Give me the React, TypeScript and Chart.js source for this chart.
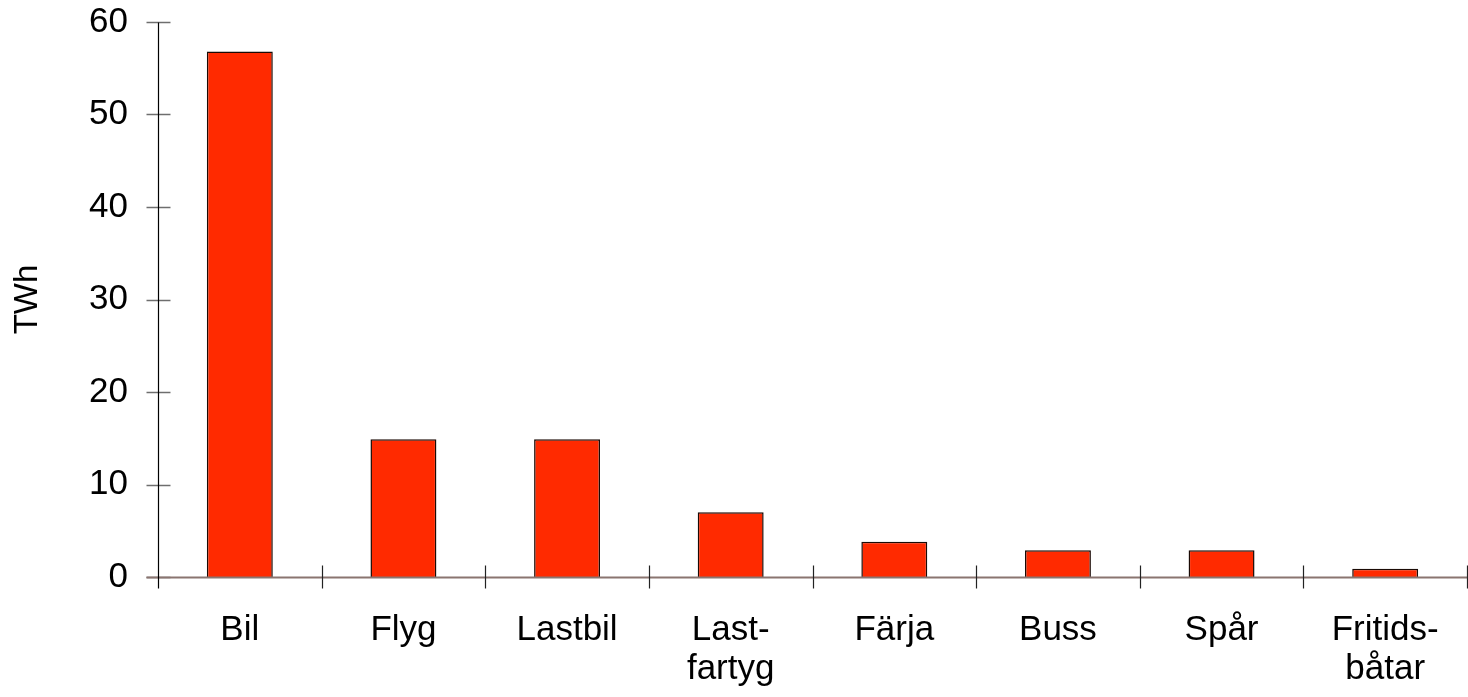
import React, { useEffect, useRef } from "react";
import { Chart, registerables } from "chart.js";

Chart.register(...registerables);

const categories: (string | string[])[] = [
  "Bil",
  "Flyg",
  "Lastbil",
  ["Last-", "fartyg"],
  "Färja",
  "Buss",
  "Spår",
  ["Fritids-", "båtar"],
];
const energyTWh: number[] = [56.8, 14.9, 14.9, 7.0, 3.8, 2.9, 2.9, 0.9];
const yTicks: number[] = [0, 10, 20, 30, 40, 50, 60];
const yTitle = "TWh";

const FONT = "'Liberation Sans', Arial, sans-serif";

const axisPlugin = {
  id: "axisPlugin",
  afterDraw(chart: any) {
    const ctx = chart.ctx;
    const xa = chart.scales.x;
    const ya = chart.scales.y;
    const x0 = Math.round(xa.left) + 0.5;
    const y0 = Math.round(ya.getPixelForValue(0)) + 0.5;
    const yTop = Math.round(ya.getPixelForValue(60)) + 0.5;
    ctx.save();
    ctx.lineWidth = 1.5;
    ctx.strokeStyle = "#6e6e6e";
    yTicks.forEach((v) => {
      const py = Math.round(ya.getPixelForValue(v)) + 0.5;
      ctx.beginPath();
      ctx.moveTo(x0 - 12, py);
      ctx.lineTo(x0 + 12, py);
      ctx.stroke();
    });
    ctx.strokeStyle = "#8a7570";
    ctx.lineWidth = 2;
    ctx.beginPath();
    ctx.moveTo(x0 - 12, y0);
    ctx.lineTo(xa.right, y0);
    ctx.stroke();
    ctx.strokeStyle = "#000";
    ctx.lineWidth = 1.2;
    ctx.beginPath();
    ctx.moveTo(x0, yTop);
    ctx.lineTo(x0, y0 + 11);
    ctx.stroke();
    ctx.strokeStyle = "#222";
    for (let i = 1; i <= categories.length; i++) {
      const px = Math.round(xa.getPixelForValue(i - 0.5)) + 0.5;
      ctx.beginPath();
      ctx.moveTo(px, y0 - 12);
      ctx.lineTo(px, y0 + 11);
      ctx.stroke();
    }
    ctx.restore();
  },
};

export default function App() {
  const ref = useRef<HTMLCanvasElement | null>(null);
  useEffect(() => {
    if (!ref.current) return;
    const chart = new Chart(ref.current, {
      type: "bar",
      data: {
        labels: categories as any,
        datasets: [
          {
            data: energyTWh,
            backgroundColor: "#ff2a00",
            borderColor: "#1a0a05",
            borderWidth: 1.5,
            barPercentage: 0.403,
            categoryPercentage: 1,
          },
        ],
      },
      options: {
        animation: false,
        responsive: true,
        maintainAspectRatio: false,
        layout: { padding: { top: 22, right: 1, left: 0, bottom: 0 } },
        plugins: {
          legend: { display: false },
          tooltip: { enabled: false },
        },
        scales: {
          x: {
            offset: true,
            grid: { display: false, drawTicks: false },
            border: { display: false },
            ticks: {
              color: "#000",
              padding: 34,
              maxRotation: 0,
              autoSkip: false,
              font: { family: FONT, size: 35, lineHeight: 1.114 },
            },
            afterFit: (s: any) => {
              s.height = 120;
              s.paddingLeft = 0;
              s.paddingRight = 0;
            },
          },
          y: {
            min: 0,
            max: 60,
            grid: { display: false, drawTicks: false },
            border: { display: false },
            ticks: {
              stepSize: 10,
              color: "#000",
              padding: 30,
              font: { family: FONT, size: 35 },
            },
            title: {
              display: true,
              text: yTitle,
              color: "#000",
              padding: { top: 8, bottom: 0 },
              font: { family: FONT, size: 33 },
            },
            afterFit: (s: any) => {
              s.width = 158;
              s.paddingTop = 0;
              s.paddingBottom = 0;
            },
          },
        },
      },
      plugins: [axisPlugin],
    });
    return () => chart.destroy();
  }, []);
  return (
    <div style={{ position: "fixed", left: 0, top: 0, width: 1468, height: 697, background: "#fff" }}>
      <canvas ref={ref} />
    </div>
  );
}
